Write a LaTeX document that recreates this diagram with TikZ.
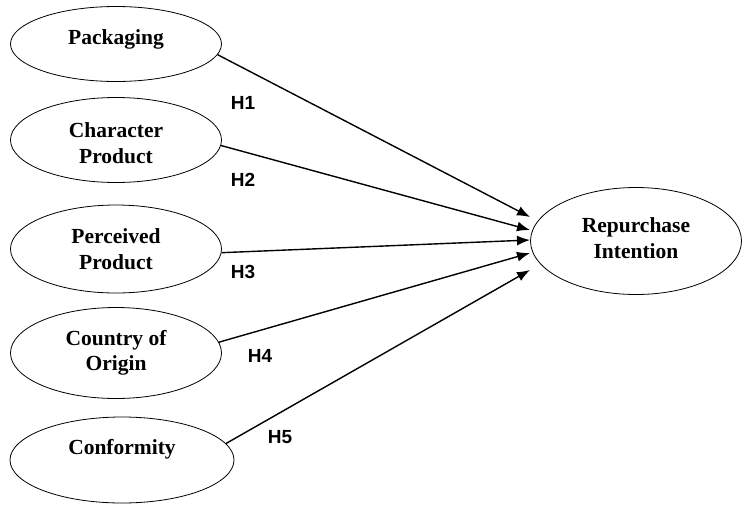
\documentclass[tikz,border=0pt]{standalone}
\usepackage{fontspec}
\setmainfont{Liberation Serif}
\newfontfamily\hfont{Liberation Sans}
\usetikzlibrary{shapes.geometric,arrows.meta}
\newcommand{\shiftup}[2]{\raisebox{#1}[\height][\depth]{#2}}
\begin{document}
\begin{tikzpicture}[x=1pt,y=-1pt,
  construct/.style={ellipse,draw,line width=0.8pt,inner sep=0pt,align=center,
    font=\fontsize{21.5}{25.5}\selectfont\bfseries},
  path/.style={line width=1.4pt,-{Latex[length=13pt,width=10pt]}},
  hlab/.style={font=\hfont\fontsize{19}{22}\selectfont\bfseries,inner sep=0pt}]
\useasboundingbox (0,0) rectangle (742,504);
\node[construct,minimum width=211pt,minimum height=75pt] (pack) at (116,44) {\shiftup{5pt}{Packaging}};
\node[construct,minimum width=211pt,minimum height=85pt] (char) at (116,140) {\shiftup{-3pt}{Character}\\\shiftup{-3pt}{Product}};
\node[construct,minimum width=211pt,minimum height=88pt] (perc) at (116,249) {Perceived\\Product};
\node[construct,minimum width=211pt,minimum height=91pt] (coo) at (116,353) {Country of\\Origin};
\node[construct,minimum width=224pt,minimum height=86pt] (conf) at (122,460) {\shiftup{11pt}{Conformity}};
\node[construct,minimum width=211pt,minimum height=107pt] (rep) at (636,241) {\shiftup{3pt}{Repurchase}\\\shiftup{3pt}{Intention}};
\coordinate (t1) at (530,217);
\coordinate (t2) at (530,230);
\coordinate (t3) at (530,240);
\coordinate (t4) at (530,253);
\coordinate (t5) at (530,270);
\draw[path] (pack.-6) -- (t1);
\draw[path] (char.-3) -- (t2);
\draw[path] (perc.-2) -- (t3);
\draw[path] (coo.6) -- (t4);
\draw[path] (conf.9) -- (t5);
\node[hlab] (h1) at (243,103) {H1};
\node[hlab] (h2) at (243,180) {H2};
\node[hlab] (h3) at (243,272) {H3};
\node[hlab] (h4) at (260,356) {H4};
\node[hlab] (h5) at (280,437) {H5};
\end{tikzpicture}
\end{document}
